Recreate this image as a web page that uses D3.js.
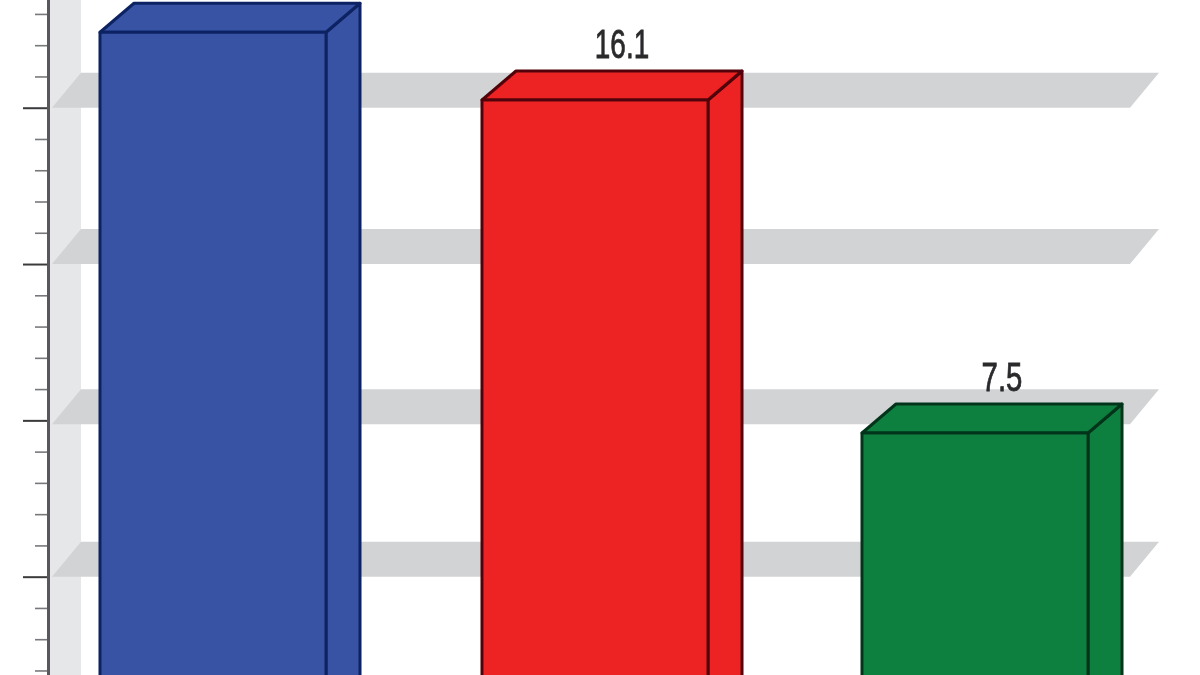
<!DOCTYPE html>
<html>
<head>
<meta charset="utf-8">
<script src="https://d3js.org/d3.v7.min.js"></script>
<style>
  html, body { margin: 0; padding: 0; background: #fff; overflow: hidden; }
</style>
</head>
<body>
<script>
const svgWidth = 1200;
const svgHeight = 675;

// values, the first label is cut off by the crop
const groups = ["first", "second", "third"];
const values = [17.85, 16.1, 7.5];
const valueLabels = ["", "16.1", "7.5"];
const barColors = ["#3953a4", "#ed2024", "#0f8040"];
const barStrokes = ["#0c2463", "#520507", "#05351a"];
const majorTicks = [4, 8, 12, 16];
const shelfLevels = [4, 7.9, 12, 16];
const minorStep = 0.8;

const barWidth = 226;
const depthX = 34;
const depthY = 29;
const shelfX = 29;
const shelfY = 35;

const svg = d3.select("body").append("svg")
    .attr("width", svgWidth)
    .attr("height", svgHeight)
    .style("display", "block");

// the source is a soft, upscaled scan
svg.append("defs").append("filter")
    .attr("id", "soft")
    .append("feGaussianBlur")
    .attr("stdDeviation", 0.6);

const chart = svg.append("g").attr("filter", "url(#soft)");

// axis scale sits on the front of the shelves, bars have their own offset
const y = d3.scaleLinear().domain([0, 20]).range([733, -48.6]);
const yBar = d3.scaleLinear().domain([0, 20]).range([723.4, -51]);
const x = d3.scaleOrdinal().domain(groups).range([100, 482, 862]);

// back wall strip
chart.append("rect")
    .attr("x", 50)
    .attr("y", 0)
    .attr("width", 31)
    .attr("height", svgHeight)
    .attr("fill", "#e6e7e8");

// gray shelves
chart.selectAll(".shelf")
    .data(shelfLevels)
    .enter().append("path")
    .attr("class", "shelf")
    .attr("fill", "#d1d3d4")
    .attr("d", d => {
        const p = d3.path();
        p.moveTo(52, y(d));
        p.lineTo(52 + shelfX, y(d) - shelfY);
        p.lineTo(1159, y(d) - shelfY);
        p.lineTo(1159 - shelfX, y(d));
        p.closePath();
        return p.toString();
    });

// axis
const minorAxis = d3.axisLeft(y)
    .tickValues(d3.range(0, 20 + minorStep, minorStep).filter(d => !majorTicks.some(m => Math.abs(m - d) < 1e-6)))
    .tickSize(13)
    .tickFormat("");
const majorAxis = d3.axisLeft(y)
    .tickValues(majorTicks)
    .tickSize(25)
    .tickFormat("");

const minorG = chart.append("g").attr("transform", "translate(48,0)").call(minorAxis);
minorG.select(".domain").remove();
minorG.selectAll("line").attr("stroke", "#77787b").attr("stroke-width", 1.6);

const majorG = chart.append("g").attr("transform", "translate(48,0)").call(majorAxis);
majorG.select(".domain").remove();
majorG.selectAll("line").attr("stroke", "#3a3a3c").attr("stroke-width", 2);

chart.append("line")
    .attr("x1", 48.5).attr("x2", 48.5)
    .attr("y1", 0).attr("y2", svgHeight)
    .attr("stroke", "#58595b")
    .attr("stroke-width", 3);

// 3d bars
const bars = chart.selectAll(".bar")
    .data(groups)
    .enter().append("g")
    .attr("class", "bar")
    .attr("fill", (d, i) => barColors[i])
    .attr("stroke", (d, i) => barStrokes[i])
    .attr("stroke-width", 3)
    .attr("stroke-linejoin", "round");

const barBottom = svgHeight + 10;

// side
bars.append("path").attr("d", (d, i) => {
    const r = x(d) + barWidth;
    const t = yBar(values[i]);
    return `M${r},${t}L${r + depthX},${t - depthY}L${r + depthX},${barBottom}L${r},${barBottom}Z`;
});

// top
bars.append("path").attr("d", (d, i) => {
    const l = x(d);
    const r = l + barWidth;
    const t = yBar(values[i]);
    return `M${l},${t}L${l + depthX},${t - depthY}L${r + depthX},${t - depthY}L${r},${t}Z`;
});

// front
bars.append("rect")
    .attr("x", d => x(d))
    .attr("y", (d, i) => yBar(values[i]))
    .attr("width", barWidth)
    .attr("height", (d, i) => barBottom - yBar(values[i]));

// value labels
chart.selectAll(".value")
    .data(groups.filter((d, i) => valueLabels[i] !== ""))
    .enter().append("text")
    .attr("class", "value")
    .attr("x", d => x(d) + barWidth / 2 + 27)
    .attr("y", d => yBar(values[groups.indexOf(d)]) - depthY - 13)
    .attr("text-anchor", "middle")
    .attr("font-family", "'Liberation Sans Narrow', 'Liberation Sans', sans-serif")
    .attr("font-size", 41)
    .attr("fill", "#2b2b2d")
    .attr("stroke", "#2b2b2d")
    .attr("stroke-width", 0.8)
    .attr("textLength", d => valueLabels[groups.indexOf(d)].length * 13.6)
    .attr("lengthAdjust", "spacingAndGlyphs")
    .text(d => valueLabels[groups.indexOf(d)]);
</script>
</body>
</html>
